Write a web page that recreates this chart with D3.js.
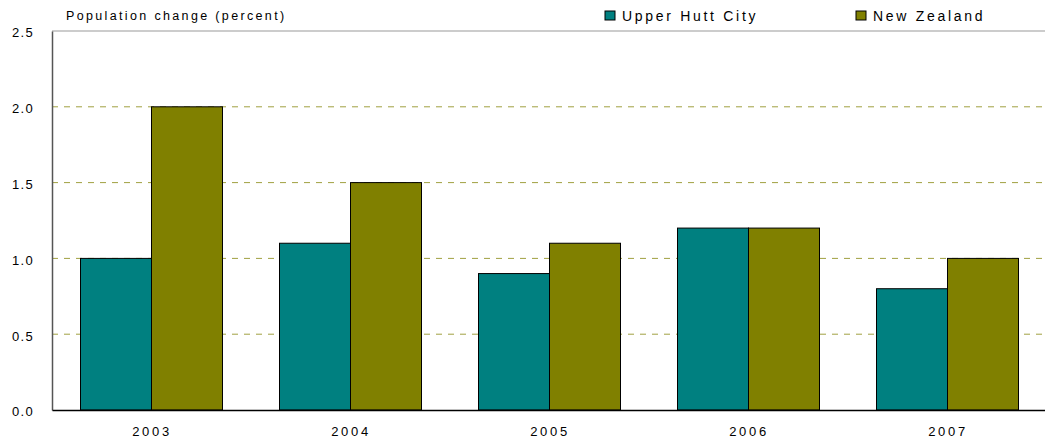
<!DOCTYPE html>
<html><head><meta charset="utf-8">
<script src="https://cdn.jsdelivr.net/npm/d3@7"></script>
<style>body{margin:0;background:#fff}text{font-family:"Liberation Sans",Arial,sans-serif;fill:#000}</style>
</head><body><svg id="c" width="1045" height="441"></svg>
<script>
const categories = ["2003","2004","2005","2006","2007"];
const seriesNames = ["Upper Hutt City","New Zealand"];
const upperHutt = [1.0,1.1,0.9,1.2,0.8];
const newZealand = [2.0,1.5,1.1,1.2,1.0];
const yTicks = [0,0.5,1.0,1.5,2.0,2.5];
const colors = ["#008080","#808000"];

const svg = d3.select("#c");
const L=52,R=1047,T=31,B=410;
const x = d3.scaleBand().domain(categories).range([L,R]).paddingInner(0).paddingOuter(0);
const y = d3.scaleLinear().domain([0,2.5]).range([B,T]);
const barW = 71;

// gridlines
svg.append("g").selectAll("line").data(yTicks.filter(d=>d>0&&d<2.5)).join("line")
  .attr("x1",L).attr("x2",R).attr("y1",d=>y(d)).attr("y2",d=>y(d))
  .attr("stroke","#a0a040").attr("stroke-width",1).attr("stroke-dasharray","6,6");
svg.append("line").attr("x1",L).attr("x2",R).attr("y1",y(2.5)).attr("y2",y(2.5)).attr("stroke","#999").attr("stroke-width",1);

const data = [upperHutt,newZealand];
data.forEach((vals,si)=>{
  svg.append("g").selectAll("rect").data(categories).join("rect")
    .attr("x",(c)=>x(c)+x.bandwidth()/2-barW+si*barW)
    .attr("y",(c,i)=>y(vals[i]))
    .attr("width",barW).attr("height",(c,i)=>B-y(vals[i]))
    .attr("fill",colors[si]).attr("stroke","#000").attr("stroke-width",1);
});

// axes
const ya = svg.append("g").attr("transform",`translate(${L},0)`)
  .call(d3.axisLeft(y).tickValues(yTicks).tickFormat(d3.format(".1f")).tickSize(0).tickPadding(18));
ya.select(".domain").attr("stroke","#555").attr("stroke-width",1.5);
ya.selectAll("text").style("font-size","13px").style("letter-spacing","1.3px").attr("font-family",null).attr("dy","0.45em");

const xa = svg.append("g").attr("transform",`translate(0,${B})`)
  .call(d3.axisBottom(x).tickSize(0).tickPadding(17));
xa.select(".domain").attr("stroke","#000").attr("stroke-width",1.5);
xa.selectAll("text").style("font-size","13px").style("letter-spacing","2.7px").attr("dx","0.5px").attr("font-family",null);

svg.append("text").attr("x",66).attr("y",20).style("font-size","12.5px").style("letter-spacing","2.35px").text("Population change (percent)");

// legend
const lx=[605,856];
seriesNames.forEach((n,i)=>{
  svg.append("rect").attr("x",lx[i]).attr("y",11).attr("width",10).attr("height",9).attr("fill",colors[i]).attr("stroke","#000").attr("stroke-width",1);
  svg.append("text").attr("x",lx[i]+17).attr("y",21).style("font-size","14px").style("letter-spacing","2.7px").text(n);
});
</script></body></html>
